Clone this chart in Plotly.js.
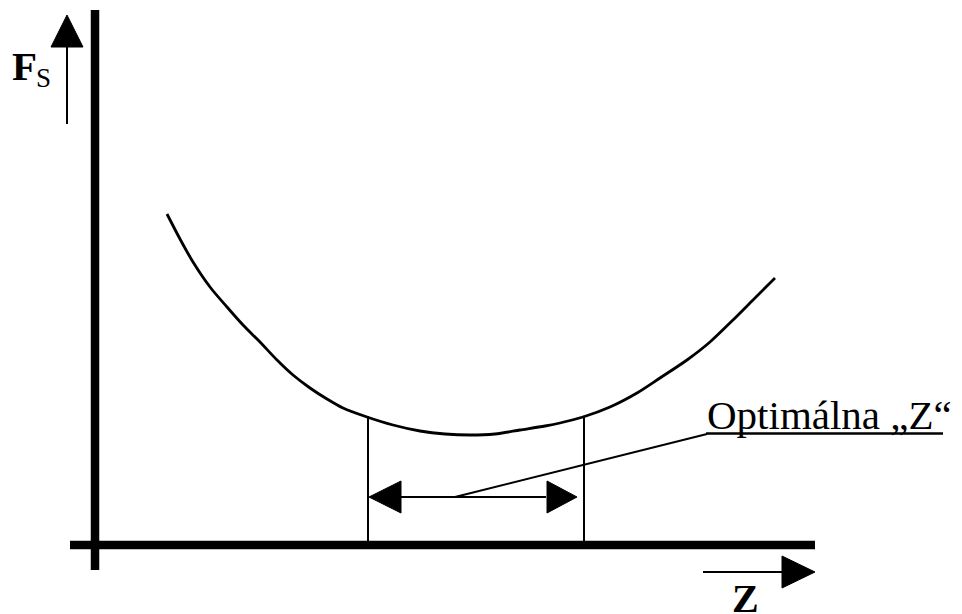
<!DOCTYPE html>
<html>
<head>
<meta charset="utf-8">
<script src="https://cdn.plot.ly/plotly-3.0.1.min.js"></script>
<style>html,body{margin:0;padding:0;background:#fff;}#chart{width:962px;height:614px;}</style>
</head>
<body>
<div id="chart"></div>
<script>
// ---- data (Z on x, Fs on y, arbitrary units; origin where axes cross) ----
const zValues  = [7.2, 8.5, 9.8, 11.5, 13.2, 14.8, 16.5, 18.2, 19.8, 21.5, 23.2, 24.8, 27.2, 29.8, 32.5, 35.0, 37.5, 40.0, 42.5, 45.0, 46.5, 48.8, 51.5, 54.2, 56.5, 59.2, 61.5, 63.8, 65.8, 68.0];
const fsValues = [33.1, 30.6, 28.3, 25.8, 23.8, 22.0, 20.3, 18.5, 17.0, 15.7, 14.6, 13.7, 12.8, 12.0, 11.4, 11.1, 11.0, 11.1, 11.5, 11.9, 12.2, 12.8, 13.8, 15.2, 16.7, 18.5, 20.3, 22.5, 24.5, 26.7];
const optimumRange = [27.3, 48.9];
const yLabel = "F";
const yLabelSub = "S";
const xLabel = "Z";
const optimumLabel = "Optimálna „Z“";

// ---- helpers converting page pixels to data units (for decorations only) ----
const X0 = 95, Y0 = 545, K = 10;
const xs = p => (p - X0) / K;
const ys = p => (Y0 - p) / K;
function tri(pts) {
  return "M" + pts.map(p => xs(p[0]) + "," + ys(p[1])).join(" L") + " Z";
}
function seg(x0, y0, x1, y1, w) {
  return {type: "line", xref: "x", yref: "y", x0: xs(x0), y0: ys(y0), x1: xs(x1), y1: ys(y1),
          line: {color: "#000", width: w}, layer: "above"};
}
function triShape(pts) {
  return {type: "path", xref: "x", yref: "y", path: tri(pts), fillcolor: "#000",
          line: {color: "#000", width: 1}, layer: "above"};
}

const optL = optimumRange[0], optR = optimumRange[1];
function fsAt(z) {
  for (let i = 0; i < zValues.length - 1; i++) {
    if (z >= zValues[i] && z <= zValues[i + 1]) {
      const t = (z - zValues[i]) / (zValues[i + 1] - zValues[i]);
      return fsValues[i] + t * (fsValues[i + 1] - fsValues[i]);
    }
  }
  return 0;
}

const arrowY = 497;
const pxL = X0 + optL * K, pxR = X0 + optR * K;

const shapes = [
  // axes
  seg(95, 10, 95, 570, 8.5),
  seg(70, 545, 815, 545, 8.5),
  // Fs arrow
  seg(67, 124, 67, 45, 2),
  triShape([[67, 15], [51, 47], [83, 47]]),
  // Z arrow
  seg(703, 572, 784, 572, 2),
  triShape([[815, 572], [782, 556], [782, 588]]),
  // optimum bounds
  {type: "line", xref: "x", yref: "y", x0: optL, x1: optL, y0: 0, y1: fsAt(optL) + 0.1, line: {color: "#000", width: 2}},
  {type: "line", xref: "x", yref: "y", x0: optR, x1: optR, y0: 0, y1: fsAt(optR) + 0.1, line: {color: "#000", width: 2}},
  // double arrow
  seg(pxL + 30, arrowY, pxR - 38, arrowY, 2),
  triShape([[pxL + 1, arrowY], [pxL + 33, arrowY - 16], [pxL + 33, arrowY + 16]]),
  triShape([[pxR - 7, arrowY], [pxR - 37, arrowY - 16], [pxR - 37, arrowY + 16]]),
  // leader line + underline
  seg(455, 497, 707, 434, 2),
  seg(706, 433.5, 943, 433.5, 2.5)
];

const serif = "Liberation Serif, Times New Roman, serif";
const annotations = [
  {x: xs(24.5), y: ys(66), xref: "x", yref: "y", text: "<b>" + yLabel + "</b>", showarrow: false,
   xanchor: "center", yanchor: "middle", font: {family: serif, size: 41, color: "#000"}},
  {x: xs(43.5), y: ys(77.5), xref: "x", yref: "y", text: yLabelSub, showarrow: false,
   xanchor: "center", yanchor: "middle", font: {family: serif, size: 27, color: "#000"}},
  {x: xs(745), y: ys(598), xref: "x", yref: "y", text: "<b>" + xLabel + "</b>", showarrow: false,
   xanchor: "center", yanchor: "middle", font: {family: serif, size: 40, color: "#000"}},
  {x: xs(705), y: ys(415), xref: "x", yref: "y", text: optimumLabel, showarrow: false,
   xanchor: "left", yanchor: "middle", font: {family: serif, size: 41, color: "#000"}}
];

const trace = {
  x: zValues, y: fsValues, type: "scatter", mode: "lines",
  line: {color: "#000", width: 2.8, shape: "spline", smoothing: 0.8},
  hoverinfo: "skip"
};

const layout = {
  width: 962, height: 614,
  margin: {l: 0, r: 0, t: 0, b: 0, pad: 0},
  paper_bgcolor: "#fff", plot_bgcolor: "#fff",
  showlegend: false,
  xaxis: {range: [xs(0), xs(962)], visible: false, showgrid: false, zeroline: false, fixedrange: true},
  yaxis: {range: [ys(614), ys(0)], visible: false, showgrid: false, zeroline: false, fixedrange: true},
  shapes: shapes,
  annotations: annotations
};

Plotly.newPlot("chart", [trace], layout, {staticPlot: true, displayModeBar: false});
</script>
</body>
</html>
